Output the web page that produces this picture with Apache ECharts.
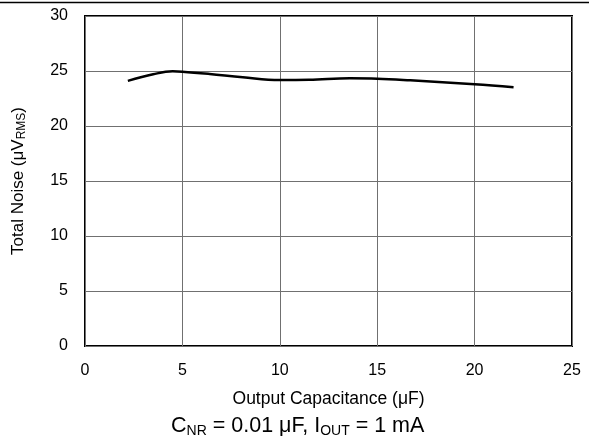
<!DOCTYPE html>
<html>
<head>
<meta charset="utf-8">
<script src="https://cdn.jsdelivr.net/npm/echarts@6/dist/echarts.min.js"></script>
<style>
  html, body { margin: 0; padding: 0; background: #fff; }
  #chart { width: 589px; height: 436px; }
</style>
</head>
<body>
<div id="chart"></div>
<script>
  // output capacitance (uF) and total noise (uVrms)
  const capacitance = [2.2, 3.5, 4.5, 5, 6.4, 8.1, 10, 11.5, 13.6, 15, 16.7, 20, 22]
  const noise = [24.1, 24.7, 24.97, 24.94, 24.73, 24.43, 24.18, 24.2, 24.33, 24.3, 24.15, 23.79, 23.52]
  const xTicks = [0, 5, 10, 15, 20, 25]
  const yTicks = [0, 5, 10, 15, 20, 25, 30]

  const font = 'Liberation Sans, Arial, sans-serif'
  const txt = (size, pad) => ({
    fontSize: size, fontFamily: font, fontWeight: 'normal', color: '#000',
    padding: pad ? [pad, 0, 0, 0] : 0
  })

  const chart = echarts.init(document.getElementById('chart'))
  chart.setOption({
    animation: false,
    backgroundColor: '#fff',
    grid: {
      left: 85, right: 17, top: 16, bottom: 90,
      outerBoundsMode: 'none',
      show: true, borderColor: '#000', borderWidth: 2
    },
    xAxis: {
      type: 'value',
      min: xTicks[0], max: xTicks[xTicks.length - 1], interval: 5,
      axisLine: { show: false },
      axisTick: { show: false },
      axisLabel: { color: '#000', fontSize: 16, fontFamily: font, margin: 17 },
      splitLine: { show: true, lineStyle: { color: '#707070', width: 1 } },
      name: 'Output Capacitance (μF)',
      nameLocation: 'middle',
      nameGap: 44,
      nameTextStyle: txt(17.5)
    },
    yAxis: {
      type: 'value',
      min: yTicks[0], max: yTicks[yTicks.length - 1], interval: 5,
      axisLine: { show: false },
      axisTick: { show: false },
      axisLabel: { color: '#000', fontSize: 16, fontFamily: font, margin: 17 },
      splitLine: { show: true, lineStyle: { color: '#707070', width: 1 } },
      name: '{n|Total Noise (μV}{s|RMS}{n|)}',
      nameLocation: 'middle',
      nameRotate: 90,
      nameGap: 57,
      nameTextStyle: { rich: { n: txt(17), s: txt(12, 8) } }
    },
    title: {
      text: '{n|C}{s|NR}{n| = 0.01 μF, I}{s|OUT}{n| = 1 mA}',
      left: 166, top: 410,
      textStyle: { rich: { n: txt(21.5), s: txt(14, 9) } }
    },
    graphic: [
      {
        type: 'line',
        shape: { x1: 0, y1: 2.5, x2: 589, y2: 2.5 },
        style: { stroke: '#000', lineWidth: 1.5 }
      }
    ],
    series: [
      {
        type: 'line',
        data: capacitance.map((c, i) => [c, noise[i]]),
        smooth: 0.4,
        showSymbol: false,
        lineStyle: { color: '#000', width: 2.5 }
      }
    ]
  })
</script>
</body>
</html>
